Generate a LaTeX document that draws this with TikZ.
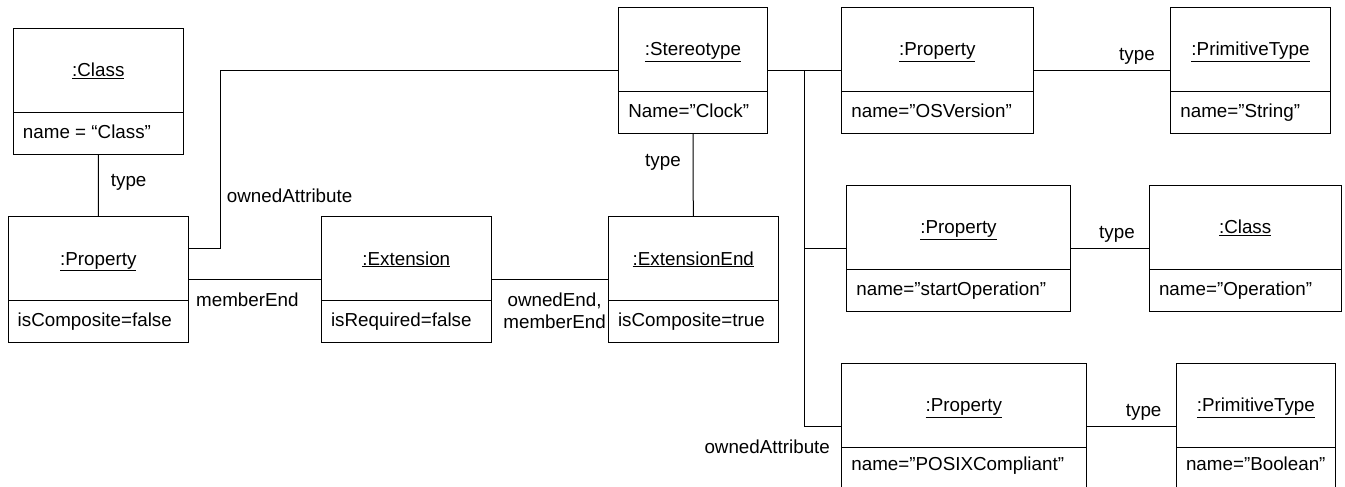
\documentclass[tikz,border=0pt]{standalone}
\usepackage{fontspec}
\setmainfont{Liberation Sans}
\usetikzlibrary{fit}
\newcommand\umlfont{\fontsize{18.8}{22.3}\selectfont}
\tikzset{
  objbox/.style={draw, inner sep=0pt, line width=1pt},
  hdr/.style={inner sep=0pt, anchor=base, font=\umlfont},
  attr/.style={inner sep=0pt, anchor=base west, font=\umlfont},
  lbl/.style={inner sep=0pt, anchor=base west, font=\umlfont},
  conn/.style={line width=1pt},
}
% #1 name, #2 x1, #3 y1, #4 x2, #5 y2, #6 divider y, #7 header, #8 attribute, #9 attr baseline
\newcommand\umlobj[9]{%
  \node[objbox, fit={(#2,#3) (#4,#5)}] (#1) {};
  \draw[line width=1pt] (#2,#6) -- (#4,#6);
  \node[hdr] (#1-h) at ({(#2+#4)/2},{(#3+#6)/2+6.4}) {\underline{#7}};
  \node[attr] (#1-a) at ({#2+9.5},#9) {#8};
}
\begin{document}
\begin{tikzpicture}[x=1pt,y=-1pt]
\useasboundingbox (0,0) rectangle (1345,487);
\clip (0,0) rectangle (1345,487);
\umlobj{cls1}{13.3}{28.3}{183.3}{154}{112.3}{:Class}{name = “Class”}{138.5}
\umlobj{prop0}{8}{216.7}{188.7}{342}{300.7}{:Property}{isComposite=false}{326.6}
\umlobj{ext}{321.3}{216.7}{491.3}{342}{300.7}{:Extension}{isRequired=false}{326.6}
\umlobj{extend}{608.3}{216.7}{778.3}{342}{300.7}{:ExtensionEnd}{isComposite=true}{326.6}
\umlobj{stereo}{618.7}{7.3}{767.3}{133.3}{91.3}{:Stereotype}{Name=”Clock”}{117.6}
\umlobj{prop1}{841.7}{7.3}{1033}{133.3}{91.3}{:Property}{name=”OSVersion”}{117.6}
\umlobj{prim1}{1170.7}{7.3}{1330.3}{133.3}{91.3}{:PrimitiveType}{name=”String”}{117.6}
\umlobj{prop2}{846.7}{185.3}{1070.3}{311}{269}{:Property}{name=”startOperation”}{295.3}
\umlobj{cls2}{1149.3}{185.3}{1341}{311}{269}{:Class}{name=”Operation”}{295.3}
\umlobj{prop3}{841.7}{363.3}{1086}{489.3}{447}{:Property}{name=”POSIXCompliant”}{470.5}
\umlobj{prim2}{1176.3}{363.3}{1335.3}{489.3}{447}{:PrimitiveType}{name=”Boolean”}{470.5}

% connectors
\draw[conn] (cls1.south) -- (prop0.north);
\coordinate (oa) at (220.3,70.3);
\draw[conn] (prop0.east |- 0,248.3) -| (oa) -- (stereo.west);
\draw[conn] (prop0.east) -- (ext.west);
\draw[conn] (ext.east) -- (extend.west);
\draw[conn] (stereo.south) -- (extend.north);
\coordinate (tr) at (804.3,70.3);
\draw[conn] (stereo.east) -- (prop1.west);
\draw[conn] (tr) |- (prop3.west);
\draw[conn] (tr |- prop2.west) -- (prop2.west);
\draw[conn] (prop1.east) -- (prim1.west);
\draw[conn] (prop2.east) -- (cls2.west);
\draw[conn] (prop3.east) -- (prim2.west);

% labels
\node[lbl] (l1) at (110.7,186.5) {type};
\node[lbl] (l2) at (226.7,202.3) {ownedAttribute};
\node[lbl] (l3) at (196,306) {memberEnd};
\node[lbl] (l4) at (645,166.7) {type};
\node[inner sep=0pt, anchor=base, align=center, font=\umlfont] (l5) at (554.6,328.3) {ownedEnd,\\memberEnd};
\node[lbl] (l6) at (704.3,453.3) {ownedAttribute};
\node[lbl] (l7) at (1119,60.7) {type};
\node[lbl] (l8) at (1099,238) {type};
\node[lbl] (l9) at (1125.7,416) {type};
\end{tikzpicture}
\end{document}
